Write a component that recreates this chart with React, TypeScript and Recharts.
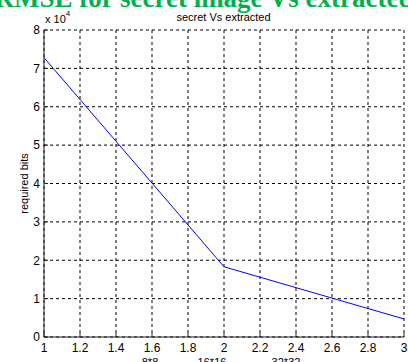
import React from 'react';
import { LineChart, Line, XAxis, YAxis, CartesianGrid } from 'recharts';

const blockSizes = [1, 2, 3];
const requiredBits = [72800, 18300, 4700];
const xTicks = [1, 1.2, 1.4, 1.6, 1.8, 2, 2.2, 2.4, 2.6, 2.8, 3];
const yTicks = [0, 10000, 20000, 30000, 40000, 50000, 60000, 70000, 80000];
const blockLabels = ['8*8', '16*16', '32*32'];
const chartTitle = 'RMSE for secret image Vs extracted';
const axesTitle = 'secret Vs extracted';
const yLabel = 'required bits';

const data = blockSizes.map((s, i) => ({ size: s, bits: requiredBits[i] }));

const FONT = '"Liberation Sans", Arial, sans-serif';
const AXIS = '#222';
const tickStyle = { fontSize: 12, fill: '#000', fontFamily: FONT };

export default function App() {
  return (
    <div style={{ position: 'absolute', left: 0, top: 0, width: 408, height: 362, overflow: 'hidden', background: '#fff' }}>
      <LineChart width={408} height={362} data={data} margin={{ top: 30, right: 4, bottom: 0, left: 0 }}>
        <CartesianGrid stroke="#000" strokeDasharray="3 3" />
        <XAxis
          dataKey="size"
          type="number"
          domain={[1, 3]}
          ticks={xTicks}
          interval={0}
          height={25}
          tickSize={-4}
          tickMargin={10}
          stroke={AXIS}
          tick={tickStyle}
          tickFormatter={(v: number) => String(Math.round(v * 10) / 10)}
        />
        <XAxis
          xAxisId="top"
          orientation="top"
          dataKey="size"
          type="number"
          domain={[1, 3]}
          ticks={xTicks}
          interval={0}
          height={0}
          tickSize={-4}
          stroke={AXIS}
          tickFormatter={() => ''}
        />
        <YAxis
          type="number"
          domain={[0, 80000]}
          ticks={yTicks}
          interval={0}
          width={44}
          tickSize={-4}
          tickMargin={8}
          stroke={AXIS}
          tick={tickStyle}
          tickFormatter={(v: number) => String(v / 10000)}
        />
        <YAxis
          yAxisId="right"
          orientation="right"
          type="number"
          domain={[0, 80000]}
          ticks={yTicks}
          interval={0}
          width={0}
          tickSize={-4}
          stroke={AXIS}
          tickFormatter={() => ''}
        />
        <Line
          type="linear"
          dataKey="bits"
          stroke="#0000ff"
          strokeWidth={1}
          dot={false}
          isAnimationActive={false}
        />
      </LineChart>
      <svg
        width={408}
        height={362}
        style={{ position: 'absolute', left: 0, top: 0, pointerEvents: 'none' }}
      >
        <text
          x={204}
          y={7}
          textAnchor="middle"
          fontFamily='"Liberation Serif", "Times New Roman", serif'
          fontWeight="bold"
          fontSize={27}
          fill="#00b050"
        >
          {chartTitle}
        </text>
        <text x={45} y={23} fontFamily={FONT} fontSize={11} fill="#000">
          x 10
          <tspan fontSize={8} dy={-7}>4</tspan>
        </text>
        <text x={223.5} y={21} textAnchor="middle" fontFamily={FONT} fontSize={11} fill="#000">
          {axesTitle}
        </text>
        <text
          x={0}
          y={0}
          transform="translate(28,183.5) rotate(-90)"
          textAnchor="middle"
          fontFamily={FONT}
          fontSize={11}
          fill="#000"
        >
          {yLabel}
        </text>
        <text x={150} y={366} textAnchor="middle" fontFamily={FONT} fontSize={11} fill="#000">
          {blockLabels[0]}
        </text>
        <text x={212} y={366} textAnchor="middle" fontFamily={FONT} fontSize={11} fill="#000">
          {blockLabels[1]}
        </text>
        <text x={286} y={366} textAnchor="middle" fontFamily={FONT} fontSize={11} fill="#000">
          {blockLabels[2]}
        </text>
      </svg>
    </div>
  );
}
